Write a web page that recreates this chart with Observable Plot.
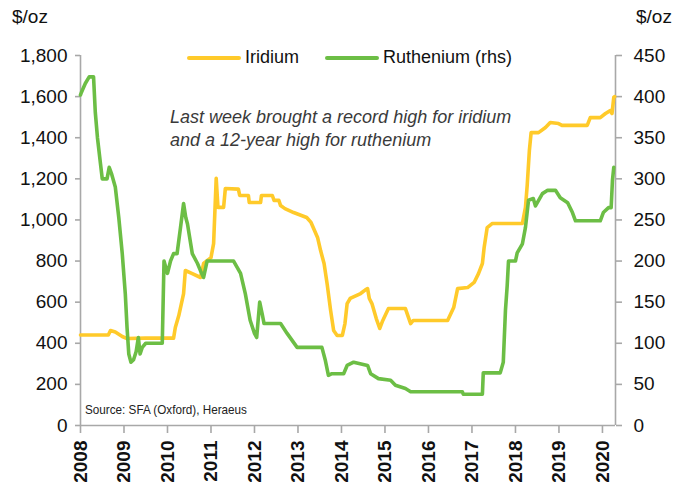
<!DOCTYPE html>
<html>
<head>
<meta charset="utf-8">
<script src="https://cdn.jsdelivr.net/npm/d3@7"></script>
<script src="https://cdn.jsdelivr.net/npm/@observablehq/plot@0.6"></script>
<style>
  html, body { margin: 0; padding: 0; background: #fff; }
  #wrap { position: relative; width: 684px; height: 486px; font-family: "Liberation Sans", Arial, sans-serif; color: #111; }
  #wrap svg { position: absolute; left: 0; top: 0; }
  .unit { position: absolute; top: 6px; font-size: 19px; }
  #legend { position: absolute; top: 47px; left: 187px; display: flex; align-items: center; font-size: 18px; }
  #legend .sw { display: inline-block; width: 54px; height: 4px; border-radius: 2px; margin-right: 4px; }
  #legend .item { display: flex; align-items: center; margin-right: 26px; }
  #note { position: absolute; left: 170px; top: 106px; font-family: "Liberation Sans", Arial, sans-serif; font-style: italic; font-size: 18px; line-height: 23px; color: #3a3a3a; }
  #source { position: absolute; left: 85px; top: 402px; font-size: 13px; color: #222; transform: scaleX(0.9); transform-origin: left top; }
</style>
</head>
<body>
<div id="wrap">
  <div class="unit" style="left:12px">$/oz</div>
  <div class="unit" style="left:636px">$/oz</div>
  <div id="legend"></div>
  <div id="note">Last week brought a record high for iridium<br>and a 12-year high for ruthenium</div>
  <div id="source">Source: SFA (Oxford), Heraeus</div>
</div>
<script>
// Series names & colours
const seriesNames = ["Iridium", "Ruthenium (rhs)"];
const seriesColors = ["#FFCA2A", "#6CBE45"];

// Iridium ($/oz, left axis): decimal year, value
const irYears = [2008.00,2008.64,2008.69,2008.80,2008.96,2009.07,2009.50,2010.14,2010.18,2010.26,2010.37,2010.41,2010.57,2010.76,2010.83,2011.00,2011.06,2011.12,2011.16,2011.29,2011.33,2011.63,2011.66,2011.86,2011.88,2012.14,2012.16,2012.41,2012.45,2012.56,2012.60,2012.70,2012.90,2013.20,2013.30,2013.45,2013.52,2013.60,2013.67,2013.75,2013.82,2013.90,2014.02,2014.08,2014.13,2014.20,2014.44,2014.55,2014.60,2014.64,2014.70,2014.80,2014.88,2014.95,2015.08,2015.47,2015.55,2015.59,2015.65,2016.44,2016.58,2016.67,2016.90,2017.05,2017.15,2017.24,2017.28,2017.35,2017.47,2018.16,2018.23,2018.27,2018.32,2018.36,2018.53,2018.69,2018.80,2018.99,2019.07,2019.65,2019.72,2019.95,2020.07,2020.18,2020.22,2020.26,2020.28];
const irValues = [440,440,462,455,433,423,425,425,477,535,642,754,739,720,788,817,885,1202,1061,1061,1153,1150,1119,1119,1085,1085,1119,1119,1095,1095,1070,1055,1036,1012,988,915,851,788,690,560,462,438,438,496,593,618,642,660,666,618,593,520,472,511,569,569,520,496,511,511,574,666,671,696,739,788,866,963,983,983,1061,1168,1338,1425,1425,1450,1474,1469,1460,1460,1498,1498,1518,1532,1518,1596,1600];

// Ruthenium ($/oz, right axis): decimal year, value
const ruYears = [2008.00,2008.02,2008.11,2008.20,2008.30,2008.34,2008.39,2008.46,2008.50,2008.61,2008.66,2008.72,2008.80,2008.88,2008.96,2009.03,2009.07,2009.11,2009.16,2009.22,2009.28,2009.33,2009.37,2009.42,2009.50,2009.88,2009.92,2010.00,2010.07,2010.14,2010.22,2010.30,2010.37,2010.42,2010.46,2010.57,2010.69,2010.76,2010.83,2010.91,2011.52,2011.68,2011.79,2011.90,2012.00,2012.05,2012.12,2012.18,2012.22,2012.60,2012.75,2012.98,2013.55,2013.63,2013.70,2013.78,2014.05,2014.13,2014.28,2014.60,2014.67,2014.85,2015.13,2015.24,2015.47,2015.59,2016.78,2016.80,2017.24,2017.26,2017.65,2017.72,2017.77,2017.81,2017.84,2018.00,2018.04,2018.16,2018.23,2018.30,2018.41,2018.46,2018.62,2018.74,2018.92,2019.03,2019.20,2019.31,2019.38,2019.95,2020.02,2020.14,2020.20,2020.23,2020.26];
const ruValues = [402,405,416,424,424,381,350,318,300,300,314,305,290,253,209,160,119,87,77,80,90,107,87,95,100,100,200,185,200,209,209,241,270,253,245,209,197,188,180,200,200,185,160,128,112,107,150,135,124,124,112,95,95,79,61,63,63,73,77,73,63,57,55,49,45,41,41,38,38,64,64,77,140,170,200,200,210,221,241,274,276,267,282,286,286,277,271,259,249,249,259,265,265,298,314];

// Axes
const xDomain = [2008, 2020.3];
const yearTicks = [2008,2009,2010,2011,2012,2013,2014,2015,2016,2017,2018,2019,2020];
const leftTicks = [0,200,400,600,800,1000,1200,1400,1600,1800];
const rightTicks = [0,50,100,150,200,250,300,350,400,450];
const rhsFactor = leftTicks[leftTicks.length-1] / rightTicks[rightTicks.length-1];

const ir = irYears.map((t, i) => ({t, v: irValues[i]}));
const ru = ruYears.map((t, i) => ({t, v: ruValues[i] * rhsFactor}));

const tickFont = "Liberation Sans, Arial, sans-serif";

const chart = Plot.plot({
  width: 684,
  height: 486,
  marginTop: 55,
  marginBottom: 61,
  marginLeft: 80,
  marginRight: 69,
  style: {fontFamily: tickFont, fontSize: "19px", color: "#111", background: "transparent"},
  x: {type: "linear", domain: xDomain},
  y: {domain: [leftTicks[0], leftTicks[leftTicks.length-1]]},
  marks: [
    Plot.ruleY([0], {stroke: "#a8a8a8", strokeWidth: 1.6}),
    Plot.ruleX(xDomain, {stroke: "#a8a8a8", strokeWidth: 1.6}),
    Plot.axisY({anchor: "left", ticks: leftTicks, tickSize: 5, tickPadding: 8, tickFormat: d3.format(","), label: null, stroke: "#a8a8a8", strokeWidth: 1.6, fontSize: 19}),
    Plot.axisY({anchor: "right", ticks: leftTicks, tickSize: 6, tickPadding: 12, tickFormat: d => d / rhsFactor, label: null, stroke: "#a8a8a8", strokeWidth: 1.6, fontSize: 19}),
    Plot.axisX({anchor: "bottom", ticks: yearTicks, tickSize: 8, tickPadding: 7, tickRotate: -90, tickFormat: d => String(d), label: null, stroke: "#a8a8a8", strokeWidth: 1.6, fontSize: 19, fontWeight: "bold", fontFamily: "Liberation Sans, Arial, sans-serif"}),
    Plot.line(ir, {x: "t", y: "v", stroke: seriesColors[0], strokeWidth: 3.6, strokeLinejoin: "round"}),
    Plot.line(ru, {x: "t", y: "v", stroke: seriesColors[1], strokeWidth: 3.6, strokeLinejoin: "round"})
  ]
});
document.getElementById("wrap").prepend(chart);

const legend = document.getElementById("legend");
seriesNames.forEach((name, i) => {
  const item = document.createElement("div");
  item.className = "item";
  const sw = document.createElement("span");
  sw.className = "sw";
  sw.style.background = seriesColors[i];
  const label = document.createElement("span");
  label.textContent = name;
  item.appendChild(sw);
  item.appendChild(label);
  legend.appendChild(item);
});
</script>
</body>
</html>
